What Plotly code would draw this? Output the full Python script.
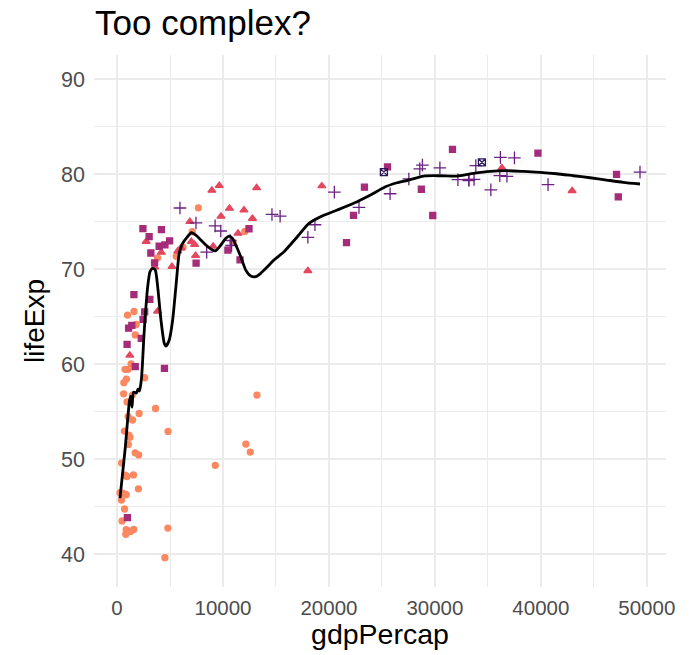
import plotly.graph_objects as go

# Gapminder 2007: one row per country
country = [
    "Afghanistan", "Albania", "Algeria", "Angola", "Argentina", "Australia", "Austria", "Bahrain",
    "Bangladesh", "Belgium", "Benin", "Bolivia", "Bosnia and Herzegovina", "Botswana", "Brazil",
    "Bulgaria", "Burkina Faso", "Burundi", "Cambodia", "Cameroon", "Canada", "Central African Republic",
    "Chad", "Chile", "China", "Colombia", "Comoros", "Congo, Dem. Rep.", "Congo, Rep.", "Costa Rica",
    "Cote d'Ivoire", "Croatia", "Cuba", "Czech Republic", "Denmark", "Djibouti", "Dominican Republic",
    "Ecuador", "Egypt", "El Salvador", "Equatorial Guinea", "Eritrea", "Ethiopia", "Finland", "France",
    "Gabon", "Gambia", "Germany", "Ghana", "Greece", "Guatemala", "Guinea", "Guinea-Bissau", "Haiti",
    "Honduras", "Hong Kong, China", "Hungary", "Iceland", "India", "Indonesia", "Iran", "Iraq", "Ireland",
    "Israel", "Italy", "Jamaica", "Japan", "Jordan", "Kenya", "Korea, Dem. Rep.", "Korea, Rep.", "Kuwait",
    "Lebanon", "Lesotho", "Liberia", "Libya", "Madagascar", "Malawi", "Malaysia", "Mali", "Mauritania",
    "Mauritius", "Mexico", "Mongolia", "Montenegro", "Morocco", "Mozambique", "Myanmar", "Namibia",
    "Nepal", "Netherlands", "New Zealand", "Nicaragua", "Niger", "Nigeria", "Norway", "Oman", "Pakistan",
    "Panama", "Paraguay", "Peru", "Philippines", "Poland", "Portugal", "Puerto Rico", "Reunion",
    "Romania", "Rwanda", "Sao Tome and Principe", "Saudi Arabia", "Senegal", "Serbia", "Sierra Leone",
    "Singapore", "Slovak Republic", "Slovenia", "Somalia", "South Africa", "Spain", "Sri Lanka", "Sudan",
    "Swaziland", "Sweden", "Switzerland", "Syria", "Taiwan", "Tanzania", "Thailand", "Togo",
    "Trinidad and Tobago", "Tunisia", "Turkey", "Uganda", "United Kingdom", "United States", "Uruguay",
    "Venezuela", "Vietnam", "West Bank and Gaza", "Yemen, Rep.", "Zambia", "Zimbabwe",
]
continent = [
    "Asia", "Europe", "Africa", "Africa", "Americas", "Oceania", "Europe", "Asia",
    "Asia", "Europe", "Africa", "Americas", "Europe", "Africa", "Americas",
    "Europe", "Africa", "Africa", "Asia", "Africa", "Americas", "Africa",
    "Africa", "Americas", "Asia", "Americas", "Africa", "Africa", "Africa", "Americas",
    "Africa", "Europe", "Americas", "Europe", "Europe", "Africa", "Americas",
    "Americas", "Africa", "Americas", "Africa", "Africa", "Africa", "Europe", "Europe",
    "Africa", "Africa", "Europe", "Africa", "Europe", "Americas", "Africa", "Africa", "Americas",
    "Americas", "Asia", "Europe", "Europe", "Asia", "Asia", "Asia", "Asia", "Europe",
    "Asia", "Europe", "Americas", "Asia", "Asia", "Africa", "Asia", "Asia", "Asia",
    "Asia", "Africa", "Africa", "Africa", "Africa", "Africa", "Asia", "Africa", "Africa",
    "Africa", "Americas", "Asia", "Europe", "Africa", "Africa", "Asia", "Africa",
    "Asia", "Europe", "Oceania", "Americas", "Africa", "Africa", "Europe", "Asia", "Asia",
    "Americas", "Americas", "Americas", "Asia", "Europe", "Europe", "Americas", "Africa",
    "Europe", "Africa", "Africa", "Asia", "Africa", "Europe", "Africa",
    "Asia", "Europe", "Europe", "Africa", "Africa", "Europe", "Asia", "Africa",
    "Africa", "Europe", "Europe", "Asia", "Asia", "Africa", "Asia", "Africa",
    "Americas", "Africa", "Europe", "Africa", "Europe", "Americas", "Americas",
    "Americas", "Asia", "Asia", "Asia", "Africa", "Africa",
]
lifeExp = [
    43.828, 76.423, 72.301, 42.731, 75.320, 81.235, 79.829, 75.635,
    64.062, 79.441, 56.728, 65.554, 74.852, 50.728, 72.390,
    73.005, 52.295, 49.580, 59.723, 50.430, 80.653, 44.741,
    50.651, 78.553, 72.961, 72.889, 65.152, 46.462, 55.322, 78.782,
    48.328, 75.748, 78.273, 76.486, 78.332, 54.791, 72.235,
    74.994, 71.338, 71.878, 51.579, 58.040, 52.947, 79.313, 80.657,
    56.735, 59.448, 79.406, 60.022, 79.483, 70.259, 56.007, 46.388, 60.916,
    70.198, 82.208, 73.338, 81.757, 64.698, 70.650, 70.964, 59.545, 78.885,
    80.745, 80.546, 72.567, 82.603, 72.535, 54.110, 67.297, 78.623, 77.588,
    71.993, 42.592, 45.678, 73.952, 59.443, 48.303, 74.241, 54.467, 64.164,
    72.801, 76.195, 66.803, 74.543, 71.164, 42.082, 62.069, 52.906,
    63.785, 79.762, 80.204, 72.899, 56.867, 46.859, 80.196, 75.640, 65.483,
    75.537, 71.752, 71.421, 71.688, 75.563, 78.098, 78.746, 76.442,
    72.476, 46.242, 65.528, 72.777, 63.062, 74.002, 42.568,
    79.972, 74.663, 77.926, 48.159, 49.339, 80.941, 72.396, 58.556,
    39.613, 80.884, 81.701, 74.143, 78.400, 52.517, 70.616, 58.420,
    69.819, 73.923, 71.777, 51.542, 79.425, 78.242, 76.384,
    73.747, 74.249, 73.422, 62.698, 42.384, 43.487,
]
gdpPercap = [
    974.58, 5937.03, 6223.37, 4797.23, 12779.38, 34435.37, 36126.49, 29796.05,
    1391.25, 33692.61, 1441.28, 3822.14, 7446.30, 12569.85, 9065.80,
    10680.79, 1217.03, 430.07, 1713.78, 2042.10, 36319.24, 706.02,
    1704.06, 13171.64, 4959.11, 7006.58, 986.15, 277.55, 3632.56, 9645.06,
    1544.75, 14619.22, 8948.10, 22833.31, 35278.42, 2082.48, 6025.37,
    6873.26, 5581.18, 5728.35, 12154.09, 641.37, 690.81, 33207.08, 30470.02,
    13206.48, 752.75, 32170.37, 1327.61, 27538.41, 5186.05, 942.65, 579.23, 1201.64,
    3548.33, 39724.98, 18008.94, 36180.79, 2452.21, 3540.65, 11605.71, 4471.06, 40676.00,
    25523.28, 28569.72, 7320.88, 31656.07, 4519.46, 1463.25, 1593.07, 23348.14, 47306.99,
    10461.06, 1569.33, 414.51, 12057.50, 1044.77, 759.35, 12451.66, 1042.58, 1803.15,
    10956.99, 11977.57, 3095.77, 9253.90, 3820.18, 823.69, 944.00, 4811.06,
    1091.36, 36797.93, 25185.01, 2749.32, 619.68, 2013.98, 49357.19, 22316.19, 2605.95,
    9809.19, 4172.84, 7408.91, 3190.48, 15389.92, 20509.65, 19328.71, 7670.12,
    10808.48, 863.09, 1598.44, 21654.83, 1712.47, 9786.53, 862.54,
    47143.18, 18678.31, 25768.26, 926.14, 9269.66, 28821.06, 3970.10, 2602.39,
    4513.48, 33859.75, 37506.42, 4184.55, 28718.28, 1107.48, 7458.40, 882.97,
    18008.51, 7092.92, 8458.28, 1056.38, 33203.26, 42951.65, 10611.46,
    11415.81, 2441.58, 3025.35, 2280.77, 1271.21, 469.71,
]

# Fitted smoother (lifeExp ~ gdpPercap), sampled along the gdp axis
smooth_gdp = [
    277, 753, 1158, 1271, 1412, 1554, 1836, 1977, 2119, 2307, 2571, 2891, 3107, 3362,
    3606, 3832, 4143, 4454, 4614, 4925, 5245, 5555, 5866, 6186, 6657, 7015, 7439, 7909,
    8380, 9011, 9322, 9793, 10264, 10574, 10894, 11205, 11676, 12147, 12617, 13088,
    13559, 14190, 14811, 15753, 17015, 18107, 19209, 20781, 22664, 23917, 25329, 26431,
    27523, 28936, 30508, 32080, 33643, 35216, 36788, 38351, 39924, 41496, 43059, 44632,
    46204, 47769, 49357,
]
smooth_life = [
    45.89, 50.95, 56.00, 56.63, 55.47, 57.05, 56.95, 57.37, 57.16, 58.53, 63.58, 68.14,
    69.72, 70.07, 69.89, 68.14, 64.63, 62.18, 61.89, 62.53, 64.63, 68.14, 71.65, 72.71,
    73.42, 73.82, 73.58, 73.05, 72.53, 72.00, 71.93, 72.53, 73.23, 73.47, 73.23, 72.53,
    71.29, 69.89, 69.26, 69.19, 69.55, 70.24, 70.95, 71.82, 73.40, 74.81, 75.51, 76.21,
    77.08, 77.79, 78.66, 79.08, 79.37, 79.79, 79.82, 79.79, 80.07, 80.28, 80.35, 80.28,
    80.18, 80.03, 79.82, 79.61, 79.37, 79.13, 78.95,
]

continents = ["Africa", "Americas", "Asia", "Europe", "Oceania"]
colors = {
    "Africa": "#FB8861",
    "Americas": "#E4485F",
    "Asia": "#A52C79",
    "Europe": "#6C2183",
    "Oceania": "#2A1A5C",
}
symbols = {
    "Africa": "circle",
    "Americas": "triangle-up",
    "Asia": "square",
    "Europe": "cross-thin-open",
    "Oceania": "square-x-open",
}
sizes = {"Africa": 6, "Americas": 7, "Asia": 6, "Europe": 9, "Oceania": 7}

fig = go.Figure()
for cont in continents:
    idx = [i for i, c in enumerate(continent) if c == cont]
    fig.add_trace(go.Scatter(
        x=[gdpPercap[i] for i in idx],
        y=[lifeExp[i] for i in idx],
        mode="markers",
        name=cont,
        text=[country[i] for i in idx],
        marker=dict(
            color=colors[cont],
            symbol=symbols[cont],
            size=sizes[cont],
            line=dict(width=1.3, color=colors[cont]),
        ),
    ))

fig.add_trace(go.Scatter(
    x=smooth_gdp, y=smooth_life, mode="lines", name="smooth",
    line=dict(color="black", width=2.8, shape="spline", smoothing=0.6),
))

font_family = "Liberation Sans, Arial, sans-serif"
grid = "#EBEBEB"

fig.update_layout(
    width=692, height=655,
    margin=dict(l=94, r=26, t=55, b=68),
    paper_bgcolor="white", plot_bgcolor="white",
    showlegend=False,
    font=dict(family=font_family, color="black"),
    title=dict(
        text="Too complex?", x=95 / 692, xref="container", xanchor="left",
        y=1 - 23 / 655, yref="container", yanchor="middle",
        font=dict(size=35, color="black"),
    ),
)
fig.update_xaxes(
    range=[-2177, 51811], tickvals=[0, 10000, 20000, 30000, 40000, 50000],
    ticktext=["0", "10000", "20000", "30000", "40000", "50000"],
    showgrid=True, gridcolor=grid, gridwidth=1.8, zeroline=False, showline=False,
    ticks="", ticklabelstandoff=6,
    tickfont=dict(size=20.5, color="#4D4D4D"),
    minor=dict(tickvals=[5000, 15000, 25000, 35000, 45000], showgrid=True,
               gridcolor=grid, gridwidth=0.9),
    title=dict(text="gdpPercap", font=dict(size=28.5), standoff=4),
)
fig.update_yaxes(
    range=[36.53, 92.53], tickvals=[40, 50, 60, 70, 80, 90],
    showgrid=True, gridcolor=grid, gridwidth=1.8, zeroline=False, showline=False,
    ticks="", ticklabelstandoff=8,
    tickfont=dict(size=21.5, color="#4D4D4D"),
    minor=dict(tickvals=[45, 55, 65, 75, 85], showgrid=True,
               gridcolor=grid, gridwidth=0.9),
    title=dict(text="lifeExp", font=dict(size=28), standoff=8),
)

fig.write_html("out.html")
